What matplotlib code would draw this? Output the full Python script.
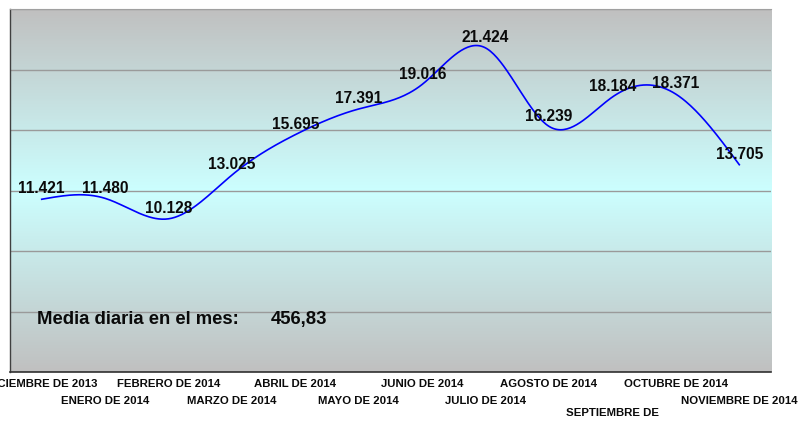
import numpy as np
import matplotlib
matplotlib.use("Agg")
import matplotlib.pyplot as plt
from matplotlib.colors import LinearSegmentedColormap

plt.rcParams['font.family'] = ['Liberation Sans', 'DejaVu Sans']

# monthly values (shown with "." as thousands separator)
months = ["DICIEMBRE DE 2013", "ENERO DE 2014", "FEBRERO DE 2014", "MARZO DE 2014",
          "ABRIL DE 2014", "MAYO DE 2014", "JUNIO DE 2014", "JULIO DE 2014",
          "AGOSTO DE 2014", "SEPTIEMBRE DE", "OCTUBRE DE 2014", "NOVIEMBRE DE 2014"]
values = [11421, 11480, 10128, 13025, 15695, 17391, 19016, 21424, 16239, 18184, 18371, 13705]
media_label = "Media diaria en el mes:"
media_value = "456,83"


def spline(xs, ys, n=40):
    # natural cubic spline through the points (the chart uses a smoothed line)
    xs = np.asarray(xs, float)
    ys = np.asarray(ys, float)
    k = len(xs)
    h = np.diff(xs)
    A = np.zeros((k, k))
    b = np.zeros(k)
    A[0, 0] = 1
    A[-1, -1] = 1
    for i in range(1, k - 1):
        A[i, i - 1] = h[i - 1]
        A[i, i] = 2 * (h[i - 1] + h[i])
        A[i, i + 1] = h[i]
        b[i] = 6 * ((ys[i + 1] - ys[i]) / h[i] - (ys[i] - ys[i - 1]) / h[i - 1])
    m = np.linalg.solve(A, b)
    px, py = [], []
    for i in range(k - 1):
        t = np.linspace(xs[i], xs[i + 1], n)
        a = xs[i + 1] - t
        c = t - xs[i]
        y = (m[i] * a**3 + m[i + 1] * c**3) / (6 * h[i]) \
            + (ys[i] / h[i] - m[i] * h[i] / 6) * a \
            + (ys[i + 1] / h[i] - m[i + 1] * h[i] / 6) * c
        px.extend(t)
        py.extend(y)
    return px, py


W, H = 810, 421
fig = plt.figure(figsize=(W / 100, H / 100), dpi=100)
left, right, top, bottom = 10, 771, 9, 372
ax = fig.add_axes([left / W, (H - bottom) / H, (right - left) / W, (bottom - top) / H])

# background gradient gray -> light cyan -> gray
cmap = LinearSegmentedColormap.from_list("bg", ["#c0c0c0", "#ccffff", "#c0c0c0"])
grad = np.linspace(0, 1, 256).reshape(-1, 1)
ax.imshow(grad, cmap=cmap, aspect="auto", extent=[0, 1, 0, 1],
          transform=ax.transAxes, zorder=0)

x = np.arange(len(values))
sx, sy = spline(x, values)
ax.plot(sx, sy, color="#0000ff", lw=1.2, zorder=3)

for xi, v in zip(x, values):
    ax.annotate(f"{v:,}".replace(",", "."), (xi, v), xytext=(0, 2),
                textcoords="offset points", ha="center", va="bottom",
                fontsize=11.2, fontweight="bold", color="#0a0a0a", zorder=4)

ax.set_xlim(-0.5, len(values) - 0.5)
ax.set_ylim(0, 24000)
ax.set_yticks(np.arange(0, 24001, 4000))
ax.yaxis.grid(True, color="#9a9a9a", lw=1)
ax.set_axisbelow(True)
ax.tick_params(left=False, bottom=False, labelleft=False, labelbottom=False)

ax.spines["right"].set_visible(False)
ax.spines["top"].set_color("#a0a0a0")
ax.spines["left"].set_color("#404040")
ax.spines["bottom"].set_color("#303030")
ax.spines["left"].set_linewidth(1)
ax.spines["bottom"].set_linewidth(1.2)

# month labels in two staggered rows
tr = ax.get_xaxis_transform()
row_y = [(bottom - 384) / (bottom - top), (bottom - 401) / (bottom - top)]
for i, m in enumerate(months):
    yy = row_y[i % 2]
    if m == "SEPTIEMBRE DE":
        yy = (bottom - 413) / (bottom - top)
    ax.text(i, yy, m, transform=tr, ha="center", va="center",
            fontsize=8.2, fontweight="bold", color="#0a0a0a", clip_on=False)

ax.text(0.0355, 0.145, media_label, transform=ax.transAxes, ha="left", va="center",
        fontsize=13.3, fontweight="bold", color="#0a0a0a")
ax.text(0.343, 0.145, media_value, transform=ax.transAxes, ha="left", va="center",
        fontsize=13.3, fontweight="bold", color="#0a0a0a")

fig.savefig("out.png", dpi=100)
